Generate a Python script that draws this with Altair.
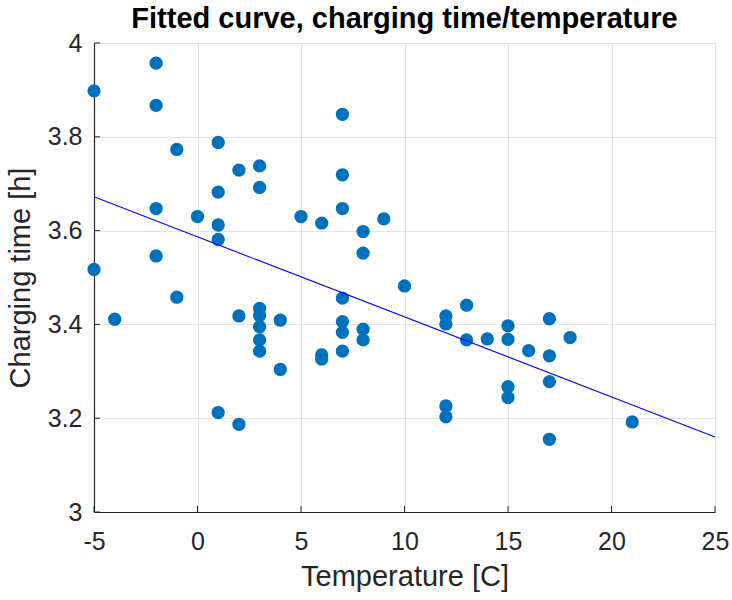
import altair as alt
import pandas as pd

temperature = [-5, -5, -4, -2, -2, -2, -2, -1, -1, 0,
               1, 1, 1, 1, 1, 2, 2, 2,
               3, 3, 3, 3, 3, 3, 3, 4, 4, 5,
               6, 6, 6, 7, 7, 7, 7, 7, 7, 7,
               8, 8, 8, 8, 9, 10, 12, 12, 12, 12,
               13, 13, 14, 15, 15, 15, 15, 16,
               17, 17, 17, 17, 18, 21]
charging_time = [3.898, 3.517, 3.411, 3.957, 3.867, 3.647, 3.546, 3.773, 3.458, 3.630,
                 3.788, 3.682, 3.612, 3.581, 3.212, 3.729, 3.418, 3.187,
                 3.738, 3.692, 3.434, 3.419, 3.395, 3.367, 3.343, 3.409, 3.304, 3.630,
                 3.616, 3.335, 3.326, 3.848, 3.719, 3.647, 3.456, 3.406, 3.383, 3.343,
                 3.598, 3.552, 3.390, 3.367, 3.625, 3.482, 3.418, 3.401, 3.226, 3.203,
                 3.441, 3.367, 3.369, 3.397, 3.368, 3.267, 3.244, 3.344,
                 3.412, 3.333, 3.278, 3.155, 3.372, 3.192]

fit_x = [-5, 25]
fit_y = [3.672, 3.160]

x_ticks = [-5, 0, 5, 10, 15, 20, 25]
y_ticks = [3, 3.2, 3.4, 3.6, 3.8, 4]

pts = pd.DataFrame({"t": temperature, "h": charging_time})
fit = pd.DataFrame({"t": fit_x, "h": fit_y})
xt = pd.DataFrame({"v": x_ticks})
yt = pd.DataFrame({"v": y_ticks})

FONT = "Liberation Sans"
TXT = "#262626"

xscale = alt.Scale(domain=[-5, 25], nice=False, zero=False)
yscale = alt.Scale(domain=[3, 4], nice=False, zero=False)

xaxis = alt.Axis(values=x_ticks, title="Temperature [C]", labelExpr="'' + datum.value",
                 grid=True, gridColor="#e3e3e3", ticks=False, domainColor=TXT,
                 domainWidth=1.2, labelFontSize=25, labelColor=TXT, labelFont=FONT,
                 labelPadding=17, labelFlush=False, titleFontSize=29, titleFont=FONT,
                 titleColor=TXT, titleFontWeight="normal", titlePadding=8)
yaxis = alt.Axis(values=y_ticks, title="Charging time [h]", labelExpr="'' + datum.value",
                 grid=True, gridColor="#e3e3e3", ticks=False, domainColor=TXT,
                 domainWidth=1.2, labelFontSize=25, labelColor=TXT, labelFont=FONT,
                 labelPadding=12, labelFlush=False, titleFontSize=29, titleFont=FONT,
                 titleColor=TXT, titleFontWeight="normal", titlePadding=12)

points = alt.Chart(pts).mark_circle(size=177, opacity=1, color="#0072BD").encode(
    x=alt.X("t:Q", scale=xscale, axis=xaxis),
    y=alt.Y("h:Q", scale=yscale, axis=yaxis),
)

line = alt.Chart(fit).mark_line(color="#0000FF", strokeWidth=1.1).encode(
    x=alt.X("t:Q", scale=xscale),
    y=alt.Y("h:Q", scale=yscale),
)

ytick_marks = alt.Chart(yt).mark_rule(color=TXT, strokeWidth=1).encode(
    y=alt.Y("v:Q", scale=yscale), x=alt.value(0), x2=alt.value(6)
)
xtick_marks = alt.Chart(xt).mark_rule(color=TXT, strokeWidth=1).encode(
    x=alt.X("v:Q", scale=xscale), y=alt.value(469), y2=alt.value(463)
)

chart = alt.layer(points, line, ytick_marks, xtick_marks).properties(
    width=621, height=469,
    title=alt.TitleParams("Fitted curve, charging time/temperature", font=FONT,
                          fontSize=29, fontWeight="bold", color="black", offset=-3),
    autosize=alt.AutoSizeParams(type="none"),
    padding={"left": 94, "top": 43, "right": 17, "bottom": 88},
).configure_view(stroke=None).configure(background="white")

chart.save("out.html", embed_options={"renderer": "svg", "actions": False})
